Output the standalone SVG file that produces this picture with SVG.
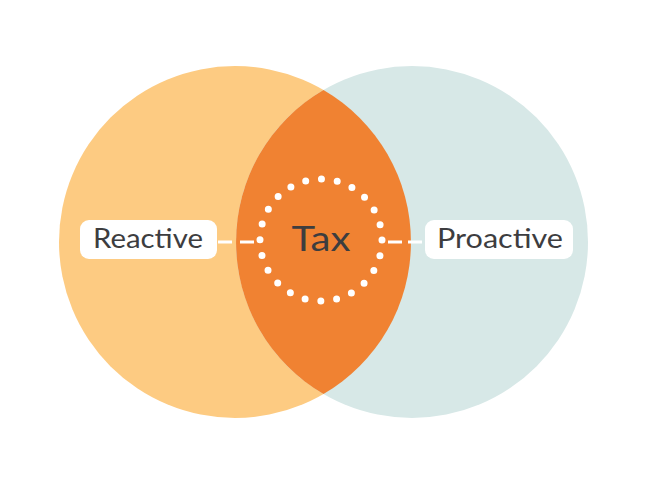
<svg xmlns="http://www.w3.org/2000/svg" width="650" height="487" viewBox="0 0 650 487">
<style>
.label{fill:#ffffff}
.txt{font-family:"Lato","Open Sans","Liberation Sans",sans-serif;font-weight:normal;fill:#3d3d3f;text-anchor:middle}
.conn{stroke:#ffffff;stroke-width:3.2;fill:none}
</style>
<rect width="650" height="487" fill="#ffffff"/>
<g id="reactive-circle"><circle cx="235" cy="242" r="176" fill="#FDCB82"/></g>
<g id="proactive-circle"><circle cx="412" cy="242" r="176" fill="#D7E8E7"/></g>
<g id="overlap"><path d="M323.5 89.9 A176 176 0 0 1 323.5 394.1 A176 176 0 0 1 323.5 89.9 Z" fill="#F08232"/></g>
<g id="connectors">
<line class="conn" x1="218" y1="242" x2="254" y2="242" stroke-dasharray="14 8"/>
<line class="conn" x1="388" y1="242" x2="422" y2="242" stroke-dasharray="14 6"/>
</g>
<g id="tax">
<circle cx="321" cy="240" r="61" fill="none" stroke="#ffffff" stroke-width="7" stroke-linecap="round" stroke-dasharray="0 15.97"/>
<text class="txt" x="321" y="251" font-size="35" textLength="59" lengthAdjust="spacingAndGlyphs">Tax</text>
</g>
<g id="reactive">
<rect class="label" x="80" y="220" width="137" height="39" rx="9"/>
<text class="txt" x="148" y="248" font-size="26" textLength="110" lengthAdjust="spacingAndGlyphs">Reactive</text>
</g>
<g id="proactive">
<rect class="label" x="425" y="220" width="148" height="39" rx="9"/>
<text class="txt" x="500" y="248" font-size="26" textLength="126" lengthAdjust="spacingAndGlyphs">Proactive</text>
</g>
</svg>
